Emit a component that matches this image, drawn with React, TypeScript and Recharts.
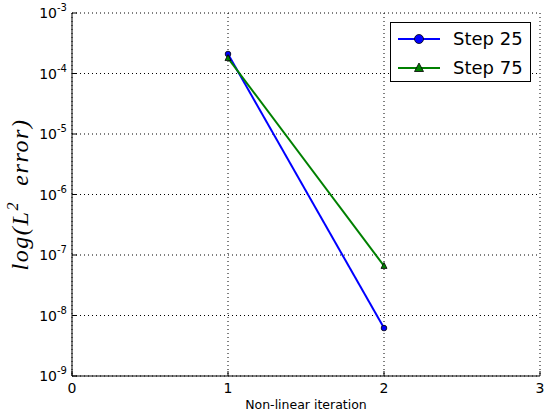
import React from 'react';
import {
  LineChart,
  Line,
  XAxis,
  YAxis,
  CartesianGrid,
  Label,
} from 'recharts';

// plot box edges (px inside the chart svg)
const PL = 72;
const PR = 540;
const PT = 13;
const PB = 376;

const iterations = [1, 2];
const step25 = [2.1e-4, 6.2e-9];
const step75 = [1.8e-4, 6.6e-8];

const xTicks = [0, 1, 2, 3];
const yTicks = [1e-9, 1e-8, 1e-7, 1e-6, 1e-5, 1e-4, 1e-3];
const yTickExp = ['-9', '-8', '-7', '-6', '-5', '-4', '-3'];
const minorTicks: number[] = [];
for (let e = -9; e < -3; e++) {
  for (let k = 2; k <= 9; k++) minorTicks.push(k * Math.pow(10, e));
}

const data = iterations.map((x, i) => ({ x, s25: step25[i], s75: step75[i] }));

const BLUE = '#0000ff';
const GREEN = '#008000';

const LeftTick = (props: any) => {
  const { y, payload } = props;
  const i = yTicks.findIndex((t) => Math.abs(t - payload.value) / t < 1e-6);
  return (
    <g>
      <line x1={PL} x2={PL + 5} y1={y} y2={y} stroke="#000" />
      <text x={67} y={y + 5} textAnchor="end" fontSize={14} fill="#000">
        10<tspan dy={-7} fontSize={10}>{yTickExp[i]}</tspan>
      </text>
    </g>
  );
};

const MinorLeftTick = (props: any) => (
  <line x1={PL} x2={PL + 3} y1={props.y} y2={props.y} stroke="#000" />
);

const RightTick = (props: any) => {
  const v = props.payload.value;
  const major = yTicks.some((t) => Math.abs(t - v) / t < 1e-6);
  return <line x1={PR - (major ? 5 : 3)} x2={PR} y1={props.y} y2={props.y} stroke="#000" />;
};

const BottomTick = (props: any) => {
  const { x, payload } = props;
  return (
    <g>
      <line x1={x} x2={x} y1={PB} y2={PB - 5} stroke="#000" />
      <text x={x} y={PB + 17} textAnchor="middle" fontSize={14} fill="#000">
        {payload.value}
      </text>
    </g>
  );
};

const TopTick = (props: any) => (
  <line x1={props.x} x2={props.x} y1={PT} y2={PT + 5} stroke="#000" />
);

const YLabel = () => (
  <text
    x={0}
    y={0}
    transform={`translate(28, ${(PT + PB) / 2}) rotate(-90)`}
    textAnchor="middle"
    fontFamily="'Liberation Serif', serif"
    fontStyle="italic"
    fontSize={24}
    letterSpacing={1.6}
    fill="#000"
  >
    log(L<tspan dy={-10} fontSize={16}>2</tspan>
    <tspan dy={10}>{'\u00a0 error)'}</tspan>
  </text>
);

const Triangle = (props: any) => {
  const { cx, cy } = props;
  if (cx == null || cy == null) return null;
  return (
    <polygon
      points={`${cx},${cy - 3.5} ${cx - 3},${cy + 2.5} ${cx + 3},${cy + 2.5}`}
      fill={GREEN}
      stroke="#000"
      strokeWidth={0.8}
    />
  );
};

const LegendRow = ({ color, label, marker }: { color: string; label: string; marker: 'circle' | 'triangle' }) => (
  <div style={{ display: 'flex', alignItems: 'center', height: 29 }}>
    <svg width={46} height={20} style={{ marginLeft: 5 }}>
      <line x1={2} x2={44} y1={10} y2={10} stroke={color} strokeWidth={2} />
      {marker === 'circle' ? (
        <circle cx={23} cy={10} r={4.5} fill={color} stroke="#000" strokeWidth={0.8} />
      ) : (
        <polygon points="23,5 18.5,13.5 27.5,13.5" fill={color} stroke="#000" strokeWidth={0.8} />
      )}
    </svg>
    <span style={{ marginLeft: 11, fontSize: 18 }}>{label}</span>
  </div>
);

export default function App() {
  return (
    <div
      style={{
        position: 'absolute',
        left: 0,
        top: 0,
        width: 544,
        height: 420,
        background: '#fff',
        fontFamily: "'DejaVu Sans', sans-serif",
      }}
    >
      <LineChart width={544} height={420} data={data} margin={{ top: PT, right: 544 - PR, bottom: 0, left: 0 }}>
        <CartesianGrid stroke="#000" strokeDasharray="1 3" strokeWidth={1} />
        <XAxis
          dataKey="x"
          type="number"
          domain={[0, 3]}
          ticks={xTicks}
          interval={0}
          height={420 - PB}
          stroke="#000"
          tickLine={false}
          tick={<BottomTick />}
        >
          <Label value="Non-linear iteration" position="insideBottom" offset={11} fontSize={12.5} fill="#000" />
        </XAxis>
        <XAxis
          xAxisId="top"
          orientation="top"
          type="number"
          domain={[0, 3]}
          ticks={xTicks}
          interval={0}
          height={0}
          stroke="#000"
          tickLine={false}
          tick={<TopTick />}
        />
        <YAxis
          type="number"
          scale="log"
          domain={[1e-9, 1e-3]}
          ticks={yTicks}
          interval={0}
          width={PL}
          stroke="#000"
          tickLine={false}
          tick={<LeftTick />}
        >
          <Label content={<YLabel />} />
        </YAxis>
        <YAxis
          yAxisId="minor"
          type="number"
          scale="log"
          domain={[1e-9, 1e-3]}
          ticks={minorTicks}
          interval={0}
          width={0}
          axisLine={false}
          tickLine={false}
          tick={<MinorLeftTick />}
        />
        <YAxis
          yAxisId="right"
          orientation="right"
          type="number"
          scale="log"
          domain={[1e-9, 1e-3]}
          ticks={[...yTicks, ...minorTicks]}
          interval={0}
          width={0}
          stroke="#000"
          tickLine={false}
          tick={<RightTick />}
        />
        <Line
          dataKey="s25"
          stroke={BLUE}
          strokeWidth={2}
          isAnimationActive={false}
          dot={{ r: 2.8, fill: BLUE, stroke: '#000', strokeWidth: 0.8 }}
        />
        <Line
          dataKey="s75"
          stroke={GREEN}
          strokeWidth={2}
          isAnimationActive={false}
          dot={<Triangle />}
        />
      </LineChart>
      <div
        style={{
          position: 'absolute',
          left: 390,
          top: 22,
          width: 141,
          height: 60,
          border: '1px solid #000',
          background: '#fff',
          paddingTop: 1,
          boxSizing: 'border-box',
        }}
      >
        <LegendRow color={BLUE} label="Step 25" marker="circle" />
        <LegendRow color={GREEN} label="Step 75" marker="triangle" />
      </div>
    </div>
  );
}
